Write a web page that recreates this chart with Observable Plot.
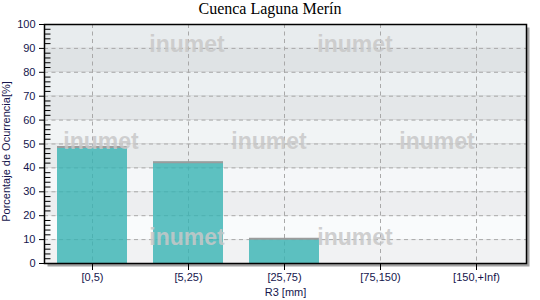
<!DOCTYPE html>
<html><head><meta charset="utf-8">
<script src="https://cdn.jsdelivr.net/npm/d3@7"></script>
<script src="https://cdn.jsdelivr.net/npm/@observablehq/plot@0.6"></script>
<style>
body{margin:0;background:#fff;}
#wrap{position:relative;width:540px;height:300px;overflow:hidden;background:#fff;}
#title{position:absolute;left:0;top:-1px;width:540px;text-align:center;font:16px "Liberation Serif","Times New Roman",serif;line-height:20px;color:#000;z-index:2;}
.wm{position:absolute;font:bold 23px "Liberation Sans",Arial,sans-serif;line-height:1;color:rgba(200,200,200,0.85);transform:translate(-50%,-50%);pointer-events:none;z-index:3;white-space:nowrap;}
#wrap svg{display:block;}
</style></head>
<body><div id="wrap"><div id="title">Cuenca Laguna Merín</div></div>
<script>
// ---- data ----
const categories = ["[0,5)", "[5,25)", "[25,75)", "[75,150)", "[150,+Inf)"];
const values = [48.7, 42.4, 10.4, 0, 0];
const yTicks = d3.range(0, 101, 10);
const yMinorTicks = d3.range(0, 101, 2).filter(d => d % 10 !== 0);
const xLabel = "R3 [mm]";
const yLabel = "Porcentaje de Ocurrencia[%]";
const watermarkText = "inumet";

// ---- layout / style ----
const W = 540, H = 300;
const mL = 44, mR = 14, mT = 24, mB = 37;
const frameW = W - mL - mR;
const textColor = "#15154d";
const font = "'Liberation Sans', Arial, sans-serif";

const data = categories.map((c, i) => ({cat: c, value: values[i]}));

// alternating background bands (light gradient to the bottom)
const lightI = d3.interpolateRgb("#f9fbfc", "#e8ecee");
const darkI = d3.interpolateRgb("#f1f2f3", "#dfe3e5");
const bands = d3.range(0, 100, 10).map((y1, i) => ({
  y1, y2: y1 + 10,
  fill: i % 2 ? lightI((i - 1) / 8) : darkI(i / 8)
}));

const chart = Plot.plot({
  width: W, height: H,
  marginLeft: mL, marginRight: mR, marginTop: mT, marginBottom: mB,
  style: {fontFamily: font, fontSize: "11px", background: "transparent"},
  color: {type: "identity"},
  x: {domain: categories, paddingInner: 0.27, paddingOuter: 0.135, insetRight: 2, label: null},
  y: {domain: [0, 100], label: null},
  marks: [
    // shadow
    Plot.frame({fill: "#a3a3a3", stroke: "none", dx: 3, dy: 3}),
    // background bands
    Plot.rect(bands, {y1: "y1", y2: "y2", fill: "fill"}),
    // grid
    Plot.gridY(yTicks.filter(d => d > 0 && d < 100), {stroke: "#a9a9a9", strokeOpacity: 1, strokeDasharray: "4,3.5"}),
    Plot.gridX({stroke: "#a9a9a9", strokeOpacity: 1, strokeDasharray: "4,3.5"}),
    // bars
    Plot.barY(data, {x: "cat", y: "value", fill: "#37b3b3", fillOpacity: 0.8}),
    Plot.tickY(data.filter(d => d.value > 0), {x: "cat", y: "value", stroke: "#9c9c9c", strokeWidth: 2}),
    // minor ticks inside
    Plot.ruleY(yMinorTicks, {stroke: "#000", insetRight: frameW - 6.5}),
    // axes
    Plot.axisY({ticks: yTicks, tickSize: 5, tickPadding: 4, stroke: "#000", fill: textColor, label: null}),
    Plot.axisX({tickSize: 7, tickPadding: 3, stroke: "#000", fill: textColor, label: null}),
    Plot.text([yLabel], {frameAnchor: "left", textAnchor: "middle", lineAnchor: "middle", rotate: -90, dx: -38, dy: 7.5, fill: textColor, fontSize: 11}),
    Plot.text([xLabel], {frameAnchor: "bottom", textAnchor: "middle", lineAnchor: "middle", dy: 29, fill: textColor, fontSize: 11}),
    Plot.frame({stroke: "#000", strokeWidth: 1.5})
  ]
});
const wrap = document.getElementById("wrap");
wrap.appendChild(chart);

// watermark overlay (decoration)
const wmSpots = [[187, 44], [355, 44], [101, 141], [269, 141], [437, 141], [187, 237], [355, 237]];
for (const [x, y] of wmSpots) {
  const s = document.createElement("span");
  s.className = "wm";
  s.textContent = watermarkText;
  s.style.left = x + "px";
  s.style.top = y + "px";
  wrap.appendChild(s);
}
</script>
</body></html>
